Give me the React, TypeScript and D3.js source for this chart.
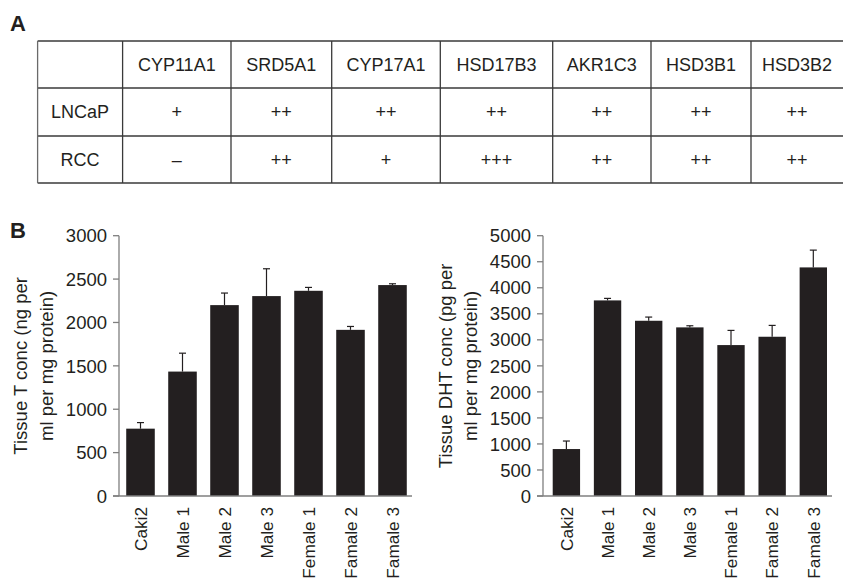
import React from "react";
import * as d3 from "d3";

// ---------- data ----------
const genes = ["CYP11A1", "SRD5A1", "CYP17A1", "HSD17B3", "AKR1C3", "HSD3B1", "HSD3B2"];
const cellLines = ["LNCaP", "RCC"];
const lncapExpr = ["+", "++", "++", "++", "++", "++", "++"];
const rccExpr = ["\u2013", "++", "+", "+++", "++", "++", "++"];

const samples = ["Caki2", "Male 1", "Male 2", "Male 3", "Female 1", "Famale 2", "Famale 3"];
const tValues = [776, 1434, 2200, 2304, 2365, 1915, 2431];
const tErrors = [70, 212, 139, 315, 39, 39, 15];
const dhtValues = [902, 3757, 3366, 3239, 2899, 3059, 4391];
const dhtErrors = [154, 39, 71, 31, 282, 218, 332];

const tTicks = [0, 500, 1000, 1500, 2000, 2500, 3000];
const dhtTicks = [0, 500, 1000, 1500, 2000, 2500, 3000, 3500, 4000, 4500, 5000];

// ---------- layout ----------
const W = 843;
const H = 581;
const FONT = "'Liberation Sans', Arial, Helvetica, sans-serif";
const INK = "#231f20";
const AXIS = "#7f7f7f";
const colEdges = [37.6, 122.6, 231, 331.7, 440.3, 552.7, 651, 751];
const lastColCenter = 797;
const rowEdges = [41, 88, 136, 183];

type PanelProps = {
  values: number[];
  errors: number[];
  ticks: number[];
  max: number;
  axisX: number;
  xEnd: number;
  bandRange: [number, number];
  padIn: number;
  padOut: number;
  titleLines: string[];
  titleX: number[];
};

const yTop = 235.7;
const yBottom = 496;

function BarPanel(p: PanelProps) {
  const y = d3.scaleLinear().domain([0, p.max]).range([yBottom, yTop]);
  const x = d3
    .scaleBand<string>()
    .domain(samples)
    .range(p.bandRange)
    .paddingInner(p.padIn)
    .paddingOuter(p.padOut);
  const bw = x.bandwidth();
  const midY = (yTop + yBottom) / 2;
  return (
    <g>
      {samples.map((s, i) => {
        const cx = (x(s) as number) + bw / 2;
        const top = y(p.values[i]);
        const et = y(p.values[i] + p.errors[i]);
        return (
          <g key={s}>
            <line x1={cx} x2={cx} y1={top} y2={et} stroke={INK} strokeWidth={1.2} />
            <line x1={cx - 3.5} x2={cx + 3.5} y1={et} y2={et} stroke={INK} strokeWidth={1.2} />
            <rect x={x(s)} y={top} width={bw} height={yBottom - top} fill={INK} />
          </g>
        );
      })}
      {/* y axis */}
      <line x1={p.axisX} x2={p.axisX} y1={yTop} y2={yBottom} stroke={AXIS} strokeWidth={1.3} />
      {p.ticks.map((t) => (
        <g key={t}>
          <line x1={p.axisX - 6} x2={p.axisX} y1={y(t)} y2={y(t)} stroke={AXIS} strokeWidth={1.3} />
          <text
            x={p.axisX - 12}
            y={y(t)}
            dy="0.36em"
            textAnchor="end"
            fontSize={18.5}
            fontFamily={FONT}
            fill={INK}
          >
            {t}
          </text>
        </g>
      ))}
      {/* x axis */}
      <line x1={p.axisX - 6} x2={p.xEnd} y1={yBottom} y2={yBottom} stroke={AXIS} strokeWidth={1.3} />
      {samples.map((s) => {
        const cx = (x(s) as number) + bw / 2;
        return (
          <text
            key={s}
            transform={`translate(${cx},${yBottom + 11}) rotate(-90)`}
            dy="0.36em"
            textAnchor="end"
            fontSize={17.2}
            fontFamily={FONT}
            fill={INK}
          >
            {s}
          </text>
        );
      })}
      {p.titleLines.map((l, i) => (
        <text
          key={l}
          transform={`translate(${p.titleX[i]},${midY}) rotate(-90)`}
          textAnchor="middle"
          fontSize={18.5}
          fontFamily={FONT}
          fill={INK}
        >
          {l}
        </text>
      ))}
    </g>
  );
}

export default function App() {
  const rows = [lncapExpr, rccExpr];
  const cx = (i: number) => (i === 7 ? lastColCenter : (colEdges[i] + colEdges[i + 1]) / 2);
  const ry = (r: number) => (rowEdges[r] + rowEdges[r + 1]) / 2;
  return (
    <svg
      width={W}
      height={H}
      viewBox={`0 0 ${W} ${H}`}
      style={{ position: "absolute", left: 0, top: 0, background: "#fff" }}
    >
      <rect width={W} height={H} fill="#fff" />
      {/* Panel A */}
      <text x={10} y={31} fontSize={22} fontWeight="bold" fontFamily={FONT} fill={INK}>
        A
      </text>
      {rowEdges.map((r) => (
        <line key={r} x1={colEdges[0]} x2={W} y1={r} y2={r} stroke="#3a3a3a" strokeWidth={1.4} />
      ))}
      {colEdges.map((c, i) => (
        <line
          key={c}
          x1={c}
          x2={c}
          y1={rowEdges[0]}
          y2={rowEdges[3]}
          stroke={i === 0 ? "#6a6a6a" : "#3a3a3a"}
          strokeWidth={1.3}
        />
      ))}
      {genes.map((g, i) => (
        <text
          key={g}
          x={cx(i + 1)}
          y={ry(0)}
          dy="0.36em"
          textAnchor="middle"
          fontSize={18}
          fontFamily={FONT}
          fill={INK}
        >
          {g}
        </text>
      ))}
      {cellLines.map((c, r) => (
        <g key={c}>
          <text
            x={cx(0)}
            y={ry(r + 1)}
            dy="0.36em"
            textAnchor="middle"
            fontSize={18}
            fontFamily={FONT}
            fill={INK}
          >
            {c}
          </text>
          {rows[r].map((v, i) => (
            <text
              key={i}
              x={cx(i + 1)}
              y={ry(r + 1)}
              dy="0.36em"
              textAnchor="middle"
              fontSize={18}
              fontFamily={FONT}
              fill={INK}
            >
              {v}
            </text>
          ))}
        </g>
      ))}

      {/* Panel B */}
      <text x={10} y={238} fontSize={22} fontWeight="bold" fontFamily={FONT} fill={INK}>
        B
      </text>
      <BarPanel
        values={tValues}
        errors={tErrors}
        ticks={tTicks}
        max={3000}
        axisX={119}
        xEnd={412}
        bandRange={[119.5, 413.5]}
        padIn={0.32}
        padOut={0.16}
        titleLines={["Tissue T conc (ng per", "ml per mg protein)"]}
        titleX={[27, 52.5]}
      />
      <BarPanel
        values={dhtValues}
        errors={dhtErrors}
        ticks={dhtTicks}
        max={5000}
        axisX={543}
        xEnd={832}
        bandRange={[546, 833.7]}
        padIn={0.335}
        padOut={0.163}
        titleLines={["Tissue DHT conc (pg per", "ml per mg protein)"]}
        titleX={[451.5, 476.5]}
      />
    </svg>
  );
}
